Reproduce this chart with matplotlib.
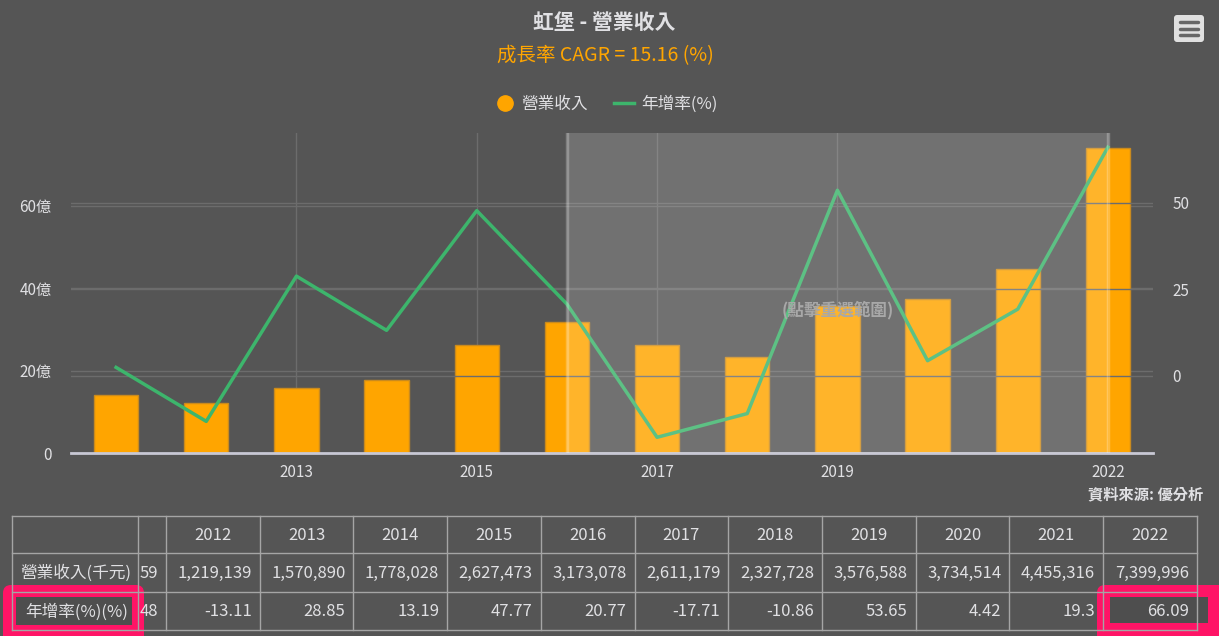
import matplotlib
matplotlib.use("Agg")
import matplotlib.pyplot as plt
from matplotlib.patches import FancyBboxPatch, Rectangle
from matplotlib.lines import Line2D

plt.rcParams['font.family'] = ['Noto Sans CJK TC', 'DejaVu Sans']

# 資料
years = ['2011', '2012', '2013', '2014', '2015', '2016', '2017', '2018', '2019', '2020', '2021', '2022']
revenue = [1403059, 1219139, 1570890, 1778028, 2627473, 3173078, 2611179, 2327728, 3576588, 3734514, 4455316, 7399996]  # 千元
growth = [2.48, -13.11, 28.85, 13.19, 47.77, 20.77, -17.71, -10.86, 53.65, 4.42, 19.3, 66.09]
tick_years = ['2013', '2015', '2017', '2019', '2022']
left_ticks = [0, 20, 40, 60]
left_labels = ['0', '20億', '40億', '60億']
right_ticks = [0, 25, 50]
sel_start, sel_end = '2016', '2022'

W, H = 1219, 636
BG = '#555555'
TXT = '#E0E0E3'
ORANGE = '#FFA500'
GREEN = '#3DB56C'
FS = 12  # 表格字級

fig = plt.figure(figsize=(W / 100, H / 100), dpi=100, facecolor=BG)

# 圖表區
ax = fig.add_axes([71 / W, 1 - 453 / H, (1153 - 71) / W, (453 - 133) / H])
ax.set_facecolor(BG)
ax2 = ax.twinx()

x = list(range(len(years)))
rev_yi = [v / 1e5 for v in revenue]  # 億
ax.bar(x, rev_yi, width=0.49, color=ORANGE, edgecolor='#C98A1E', linewidth=1, zorder=3)
ax.set_xlim(-0.5, len(years) - 0.5)
ax.set_ylim(0, 77.6)
ax.set_yticks(left_ticks)
ax.set_yticklabels(left_labels)
ax.set_xticks([years.index(y) for y in tick_years])
ax.set_xticklabels(tick_years)
ax.grid(axis='both', color='#6c6c6c', linewidth=1, zorder=0)
ax.set_axisbelow(True)

ax2.plot(x, growth, color=GREEN, linewidth=2.5, zorder=4)
ax2.set_ylim(-22.25, 70.2)
ax2.set_yticks(right_ticks)
ax2.grid(axis='y', color='#6c6c6c', linewidth=1, zorder=0)

# 選取範圍
i0, i1 = years.index(sel_start), years.index(sel_end)
ax2.axvspan(i0, i1, color='white', alpha=0.17, lw=0, zorder=6)
for xi in (i0, i1):
    ax2.axvline(xi, color='white', alpha=0.25, lw=2.5, zorder=6)
ax2.text(years.index('2019'), 19, '(點擊重選範圍)', color='#A8A8A8', fontsize=12,
         fontweight='bold', ha='center', va='center', zorder=7)

for a in (ax, ax2):
    for s in a.spines.values():
        s.set_visible(False)
    a.tick_params(length=0, colors=TXT, labelsize=11)
ax.spines['bottom'].set_visible(True)
ax.spines['bottom'].set_color('#C8C8D4')
ax.spines['bottom'].set_linewidth(2)
ax.spines['bottom'].set_zorder(8)
ax.tick_params(axis='y', pad=14)
ax.tick_params(axis='x', pad=8)
ax2.tick_params(axis='y', pad=14)

# 上層（標題、表格）
ov = fig.add_axes([0, 0, 1, 1], facecolor='none')
ov.set_xlim(0, W)
ov.set_ylim(H, 0)
ov.axis('off')

ov.text(604, 22, '虹堡 - 營業收入', color=TXT, fontsize=15, fontweight='bold', ha='center', va='center')
ov.text(605, 56, '成長率 CAGR = 15.16 (%)', color=ORANGE, fontsize=14, ha='center', va='center')

handles = [Line2D([], [], marker='o', color=ORANGE, linestyle='none', markersize=11),
           Line2D([], [], color=GREEN, linewidth=2.5)]
fig.legend(handles, ['營業收入', '年增率(%)'], loc='center', bbox_to_anchor=(606 / W, 1 - 104 / H),
           ncol=2, frameon=False, labelcolor=TXT, fontsize=12, handlelength=1.2,
           columnspacing=1.6, handletextpad=0.4)

# 選單圖示
ov.add_patch(FancyBboxPatch((1174, 15), 30, 27, boxstyle='round,pad=0,rounding_size=3',
                            facecolor='#E0E0E0', edgecolor='none'))
for yy in (22, 28.5, 35):
    ov.plot([1180, 1198], [yy, yy], color='#666666', lw=2.5, solid_capstyle='round')

ov.text(1203, 494, '資料來源: 優分析', color=TXT, fontsize=11, fontweight='bold', ha='right', va='center')

# 表格
col_edges = [166 + 93.7 * k for k in range(12)]  # 2012..2022 左邊界
col_edges.append(1197)
row_y = [516, 553, 592, 630]
line_c = '#A5A5A5'
for yy in row_y:
    ov.plot([12, 1197], [yy, yy], color=line_c, lw=1)
for xx in [12, 138] + col_edges[:-1]:
    ov.plot([xx, xx], [row_y[0], row_y[-1]], color=line_c, lw=1)

row_mid = [(row_y[i] + row_y[i + 1]) / 2 + 1 for i in range(3)]
ov.text(131, row_mid[1], '營業收入(千元)', color=TXT, fontsize=FS, ha='right', va='center')

# 2011 欄位被捲動遮住，只露出最後兩個字
ov.text(158, row_mid[1], f'{revenue[0]:,}'[-2:], color=TXT, fontsize=FS, ha='right', va='center')
ov.text(158, row_mid[2], f'{growth[0]}'[-2:], color=TXT, fontsize=FS, ha='right', va='center')

for k, yr in enumerate(years[1:]):
    left, right = col_edges[k], col_edges[k + 1]
    ov.text((left + right) / 2, row_mid[0], yr, color=TXT, fontsize=FS, ha='center', va='center')
    ov.text(right - 8, row_mid[1], f'{revenue[k + 1]:,}', color=TXT, fontsize=FS, ha='right', va='center')
    if k < len(years) - 2:
        ov.text(right - 8, row_mid[2], f'{growth[k + 1]}', color=TXT, fontsize=FS, ha='right', va='center')

# 粉紅標示框
PINK = '#FF1466'
ov.add_patch(FancyBboxPatch((3, 585), 141, 60, boxstyle='round,pad=0,rounding_size=8',
                            facecolor=PINK, edgecolor='none'))
ov.add_patch(Rectangle((16, 597), 116, 28, facecolor='#4E4E4E', edgecolor='none'))
ov.text(128, row_mid[2], '年增率(%)(%)', color=TXT, fontsize=FS, ha='right', va='center')

ov.add_patch(FancyBboxPatch((1097, 585), 130, 60, boxstyle='round,pad=0,rounding_size=8',
                            facecolor=PINK, edgecolor='none'))
ov.add_patch(Rectangle((1110, 597), 98, 26, facecolor='#4E4E4E', edgecolor='none'))
ov.text(1189, row_mid[2], f'{growth[-1]}', color=TXT, fontsize=FS, ha='right', va='center')

fig.savefig('out.png', dpi=100, facecolor=BG)
